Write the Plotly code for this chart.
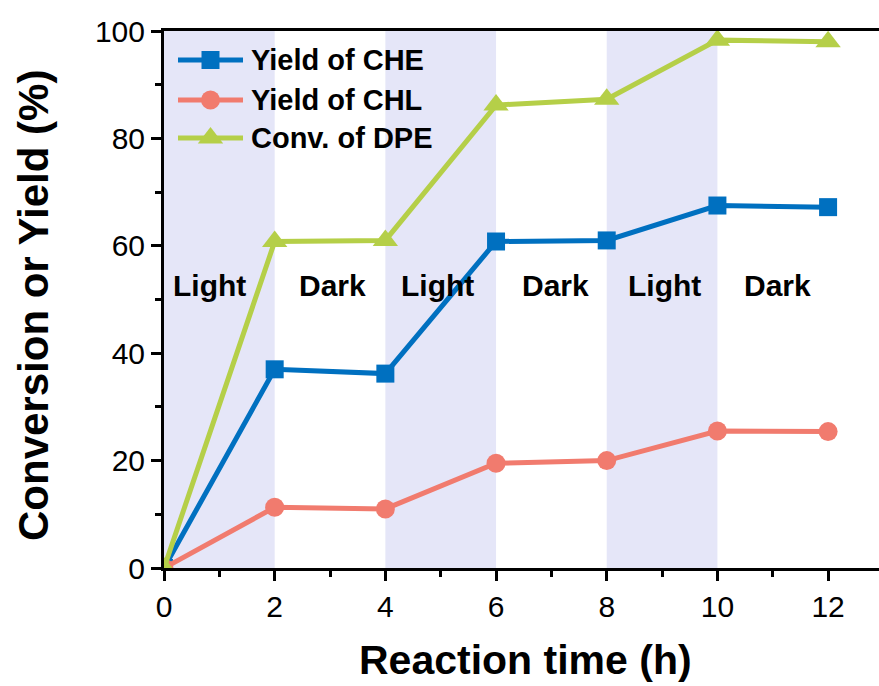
import plotly.graph_objects as go

# Reaction data
time_h = [0, 2, 4, 6, 8, 10, 12]
yield_che = [0, 37.0, 36.2, 60.8, 61.0, 67.5, 67.2]
yield_chl = [0, 11.3, 11.0, 19.5, 20.0, 25.5, 25.4]
conv_dpe = [0, 60.8, 61.0, 86.2, 87.3, 98.3, 98.0]

series_names = ["Yield of CHE", "Yield of CHL", "Conv. of DPE"]

# Illumination periods
light_start = [0, 4, 8]
light_end = [2, 6, 10]
phase_labels = ["Light", "Dark", "Light", "Dark", "Light", "Dark"]
phase_label_x = [0.83, 3.05, 4.95, 7.07, 9.04, 11.08]
phase_label_y = 52.7

x_ticks = [0, 2, 4, 6, 8, 10, 12]
y_ticks = [0, 20, 40, 60, 80, 100]

FONT = "Arial, 'Liberation Sans', sans-serif"
colors = ["#0070C0", "#F17B6E", "#B5CF48"]
symbols = ["square", "circle", "triangle-up"]
msizes = [18, 19, 22]
band_color = "#E5E6F8"

W, H = 879, 686
ML, MR, MT, MB = 164, 0, 31, 118

fig = go.Figure()

for name, ys, c, s, ms in zip(series_names, [yield_che, yield_chl, conv_dpe], colors, symbols, msizes):
    fig.add_trace(go.Scatter(
        x=time_h, y=ys, name=name, mode="lines+markers",
        line=dict(color=c, width=5),
        marker=dict(symbol=s, size=ms, color=c, line=dict(width=0)),
        showlegend=False,
    ))

# Shaded light periods
for x0, x1 in zip(light_start, light_end):
    fig.add_shape(type="rect", xref="x", yref="paper", x0=x0, x1=x1, y0=0, y1=1,
                  fillcolor=band_color, line=dict(width=0), layer="below")

# Phase labels
for lbl, lx in zip(phase_labels, phase_label_x):
    fig.add_annotation(x=lx, y=phase_label_y, xref="x", yref="y", text=f"<b>{lbl}</b>",
                       showarrow=False, font=dict(family=FONT, size=30, color="black"),
                       xanchor="center", yanchor="middle")

# Legend drawn on a pixel-scaled overlay axis
leg_rows = [60, 100, 138]
leg_line_x = [178, 243]
leg_marker_x = 210.5
leg_text_x = 249
for name, c, s, ms, ry in zip(series_names, colors, symbols, msizes, leg_rows):
    fig.add_trace(go.Scatter(x=leg_line_x, y=[ry, ry], xaxis="x2", yaxis="y2", mode="lines",
                             line=dict(color=c, width=5), showlegend=False, hoverinfo="skip"))
    fig.add_trace(go.Scatter(x=[leg_marker_x], y=[ry], xaxis="x2", yaxis="y2", mode="markers",
                             marker=dict(symbol=s, size=ms, color=c, line=dict(width=0)),
                             showlegend=False, hoverinfo="skip"))
    fig.add_annotation(x=leg_text_x, y=ry, xref="x2", yref="y2", text=f"<b>{name}</b>",
                       showarrow=False, font=dict(family=FONT, size=29, color="black"),
                       xanchor="left", yanchor="middle")

# Axis titles
pw, ph = W - ML - MR, H - MT - MB
fig.add_annotation(x=(33 - ML) / pw, y=(H - MB - 306) / ph, xref="paper", yref="paper",
                   text="<b>Conversion or Yield (%)</b>", textangle=-90, showarrow=False,
                   font=dict(family=FONT, size=42, color="black"),
                   xanchor="center", yanchor="middle")
fig.add_annotation(x=(525 - ML) / pw, y=(H - MB - 660) / ph, xref="paper", yref="paper",
                   text="<b>Reaction time (h)</b>", showarrow=False,
                   font=dict(family=FONT, size=41, color="black"),
                   xanchor="center", yanchor="middle")

fig.update_layout(
    width=W, height=H,
    margin=dict(l=ML, r=MR, t=MT, b=MB, pad=0),
    paper_bgcolor="white", plot_bgcolor="white",
    font=dict(family=FONT, color="black"),
    xaxis=dict(range=[0, 12.92], tickvals=x_ticks, ticks="outside", ticklen=10, tickwidth=2.5,
               tickcolor="black", showline=True, linewidth=3, linecolor="black", mirror=True,
               showgrid=False, zeroline=False, tickfont=dict(family=FONT, size=30, color="black"),
               minor=dict(dtick=1, ticks="outside", ticklen=6, tickwidth=2.5, tickcolor="black",
                          showgrid=False)),
    yaxis=dict(range=[0, 100], tickvals=y_ticks, ticks="outside", ticklen=10, tickwidth=2.5,
               tickcolor="black", showline=True, linewidth=3, linecolor="black",
               showgrid=False, zeroline=False, tickfont=dict(family=FONT, size=30, color="black"),
               minor=dict(dtick=10, ticks="outside", ticklen=6, tickwidth=2.5, tickcolor="black",
                          showgrid=False)),
    xaxis2=dict(range=[ML, W], overlaying="x", anchor="y2", visible=False, fixedrange=True),
    yaxis2=dict(range=[H - MB, MT], overlaying="y", anchor="x2", visible=False, fixedrange=True),
)

fig.write_html("out.html")
